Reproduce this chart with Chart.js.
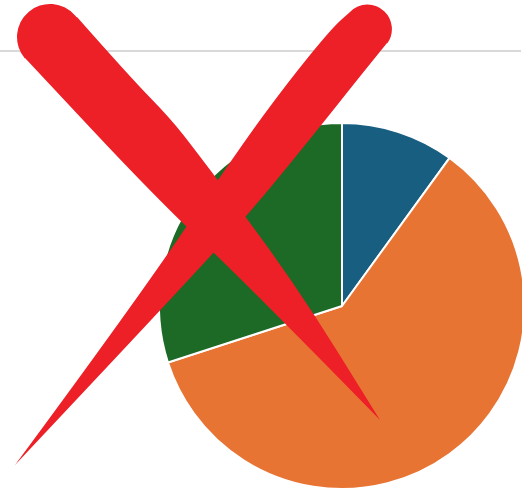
<!DOCTYPE html>
<html>
<head>
<meta charset="utf-8">
<script src="https://cdn.jsdelivr.net/npm/chart.js@4/dist/chart.umd.min.js"></script>
<style>
  html, body { margin: 0; padding: 0; overflow: hidden; background: #fff; width: 522px; height: 495px; }
  .rule { position: absolute; left: 0; top: 50px; width: 521px; height: 2px; background: #d9d9d9; }
  .wrap { position: absolute; left: 0; top: 0; width: 526px; height: 495px; }
</style>
</head>
<body>
<div class="rule"></div>
<div class="wrap"><canvas id="grafico"></canvas></div>
<script>
// === Dados ===
const labels = ["Azul", "Laranja", "Verde"];
const valores = [10, 60, 30];
const cores = ["#175e80", "#e87434", "#1c6a26"];

// curva suave passando pelos pontos (pontos médios + quadráticas)
function curva(ctx, pts) {
  ctx.lineTo(pts[0][0], pts[0][1]);
  for (let i = 1; i < pts.length - 1; i++) {
    const mx = (pts[i][0] + pts[i + 1][0]) / 2;
    const my = (pts[i][1] + pts[i + 1][1]) / 2;
    ctx.quadraticCurveTo(pts[i][0], pts[i][1], mx, my);
  }
  const ult = pts[pts.length - 1];
  ctx.lineTo(ult[0], ult[1]);
}

// === X vermelho desenhado por cima do gráfico ===
const cruzVermelha = {
  id: "cruzVermelha",
  afterDraw(chart) {
    const ctx = chart.ctx;
    ctx.save();
    ctx.fillStyle = "#ed1f27";

    // traço que desce da esquerda para a direita
    ctx.beginPath();
    ctx.moveTo(380, 420);
    curva(ctx, [[380, 420], [250, 287], [156, 198], [25, 58]]);
    ctx.arc(50, 37, 33, 2.436, 5.645, false);
    curva(ctx, [[77, 17], [130, 77], [170, 118], [196, 151], [293, 280], [380, 420]]);
    ctx.closePath();
    ctx.fill();

    // traço que desce da direita para a esquerda
    ctx.beginPath();
    ctx.moveTo(15, 465);
    curva(ctx, [[15, 465], [137, 300], [238, 150], [288, 82], [332, 28], [350, 12]]);
    ctx.arc(367.5, 29, 24.4, -2.371, 0.622, false);
    curva(ctx, [[387, 43], [357, 80], [327, 118], [250, 213], [170, 300], [15, 465]]);
    ctx.closePath();
    ctx.fill();

    ctx.restore();
  },
};

const ctxPizza = document.getElementById("grafico").getContext("2d");

new Chart(ctxPizza, {
  type: "pie",
  data: {
    labels,
    datasets: [
      {
        data: valores,
        backgroundColor: cores,
        borderColor: "#ffffff",
        borderWidth: 2,
      },
    ],
  },
  options: {
    responsive: true,
    maintainAspectRatio: false,
    animation: false,
    layout: { padding: { left: 158, top: 122, right: 0, bottom: 5 } },
    plugins: {
      legend: { display: false },
      tooltip: { enabled: false },
    },
  },
  plugins: [cruzVermelha],
});
</script>
</body>
</html>
